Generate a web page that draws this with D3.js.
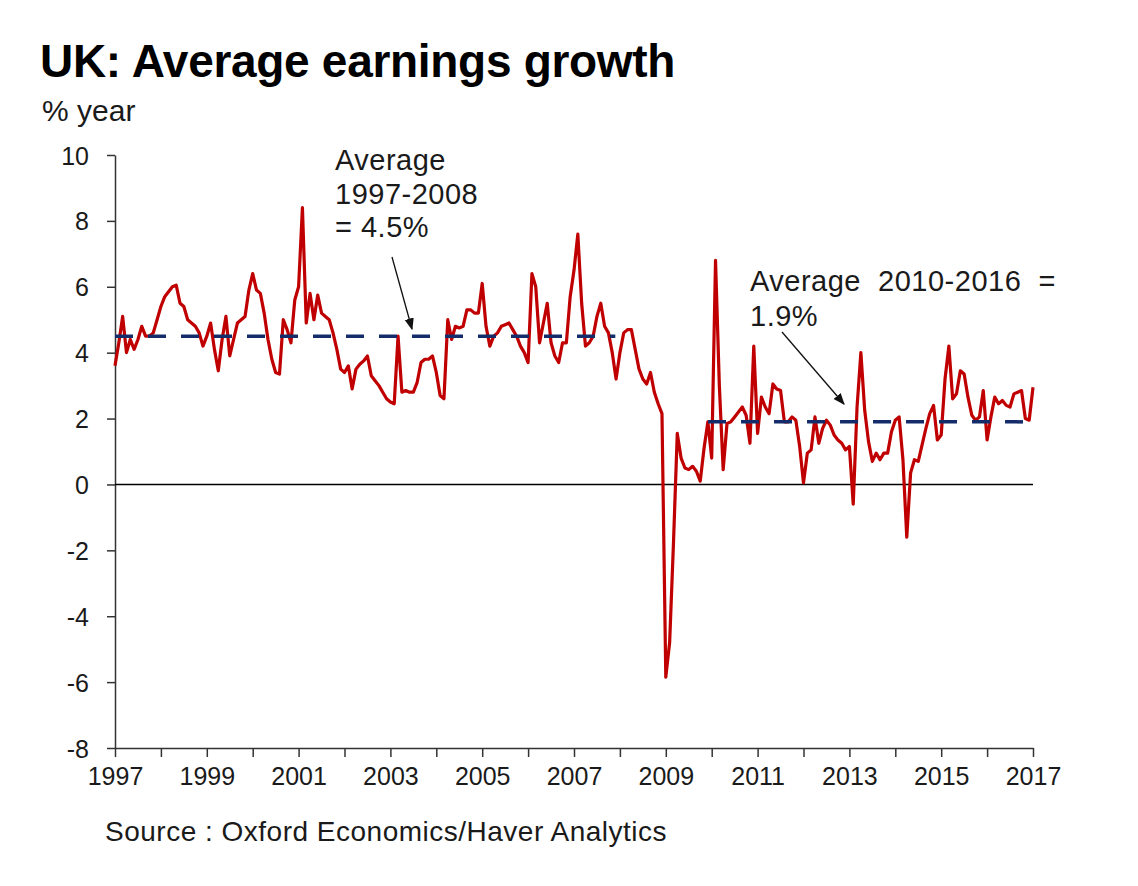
<!DOCTYPE html>
<html lang="en">
<head>
<meta charset="UTF-8">
<title>UK: Average earnings growth</title>
<style>
  body { margin: 0; background: #fff; }
  svg text { font-family: "Liberation Sans", Arial, sans-serif; fill: #1a1a1a; }
  .axis path, .axis line { stroke: #333; stroke-width: 1.5px; }
  .axis text { font-size: 25px; }
  .note { font-size: 29px; letter-spacing: 0.5px; }
</style>
</head>
<body>
<div id="chart"></div>
<script src="https://d3js.org/d3.v7.min.js"></script>
<script>
// monthly values, % year, from Jan 1997
const startYear = 1997;
const earnings = [
  3.6, 4.3, 5.1, 4.0, 4.4, 4.1, 4.4, 4.8, 4.5, 4.5, 4.6, 5.0,      // 1997
  5.4, 5.7, 5.85, 6.0, 6.05, 5.5, 5.4, 5.0, 4.9, 4.8, 4.6, 4.2,    // 1998
  4.5, 4.9, 4.1, 3.45, 4.4, 5.1, 3.9, 4.4, 4.9, 5.0, 5.1, 5.9,     // 1999
  6.4, 5.9, 5.8, 5.2, 4.4, 3.8, 3.4, 3.35, 5.0, 4.7, 4.3, 5.6,     // 2000
  6.0, 8.4, 4.9, 5.8, 5.0, 5.75, 5.2, 5.1, 5.0, 4.6, 4.1, 3.5,     // 2001
  3.4, 3.6, 2.9, 3.5, 3.65, 3.75, 3.9, 3.3, 3.15, 3.0, 2.8, 2.6,   // 2002
  2.5, 2.45, 4.5, 2.8, 2.85, 2.8, 2.8, 3.1, 3.7, 3.8, 3.8, 3.9,    // 2003
  3.4, 2.7, 2.6, 5.0, 4.4, 4.8, 4.75, 4.8, 5.3, 5.3, 5.2, 5.2,     // 2004
  6.1, 4.8, 4.2, 4.5, 4.6, 4.8, 4.85, 4.9, 4.7, 4.5, 4.2, 4.0,     // 2005
  3.7, 6.4, 6.0, 4.3, 4.9, 5.5, 4.3, 3.9, 3.7, 4.3, 4.3, 5.7,      // 2006
  6.5, 7.6, 5.5, 4.2, 4.3, 4.5, 5.1, 5.5, 4.8, 4.6, 4.0, 3.2,      // 2007
  4.0, 4.6, 4.7, 4.7, 4.1, 3.5, 3.2, 3.05, 3.4, 2.8, 2.45, 2.15,   // 2008
  -5.85, -4.8, -1.8, 1.55, 0.8, 0.5, 0.45, 0.55, 0.4, 0.1, 1.1, 1.9, // 2009
  0.8, 6.8, 3.0, 0.45, 1.85, 1.9, 2.05, 2.2, 2.35, 2.1, 1.25, 4.2, // 2010
  1.55, 2.65, 2.35, 2.15, 3.05, 2.9, 2.85, 1.9, 1.9, 2.05, 1.95, 1.15, // 2011
  0.05, 0.95, 1.05, 2.05, 1.25, 1.7, 1.95, 1.8, 1.5, 1.35, 1.25, 1.05, // 2012
  1.15, -0.6, 2.35, 4.0, 2.25, 1.3, 0.7, 0.95, 0.75, 0.95, 0.95, 1.6,  // 2013
  1.95, 2.05, 0.75, -1.6, 0.35, 0.75, 0.7, 1.2, 1.7, 2.15, 2.4, 1.35,  // 2014
  1.5, 3.2, 4.2, 2.6, 2.75, 3.45, 3.35, 2.65, 2.1, 1.95, 2.05, 2.85,   // 2015
  1.35, 2.05, 2.65, 2.45, 2.55, 2.4, 2.35, 2.75, 2.8, 2.85, 2.0, 1.95, // 2016
  2.95                                                               // 2017
];

// period averages: [from, to, value]
const averages = [
  [1997, 2007.9, 4.5],
  [2009.92, 2017, 1.9]
];

const yearTicks = d3.range(1997, 2018);
const yearLabels = d3.range(1997, 2018, 2);
const valueTicks = d3.range(-8, 11, 2);

const width = 1138, height = 886;
const margin = { left: 115, right: 105, top: 155, bottom: 138 };

const svg = d3.select("#chart").append("svg")
  .attr("width", width)
  .attr("height", height);

const x = d3.scaleLinear()
  .domain([1997, 2017])
  .range([margin.left, width - margin.right]);

const y = d3.scaleLinear()
  .domain([-8, 10])
  .range([height - margin.bottom, margin.top]);

// title and unit
svg.append("text")
  .attr("x", 40).attr("y", 77)
  .style("font-size", "46px").style("font-weight", "bold")
  .style("letter-spacing", "-0.3px")
  .style("fill", "#000")
  .text("UK: Average earnings growth");

svg.append("text")
  .attr("x", 42).attr("y", 121)
  .style("font-size", "30px")
  .text("% year");

// axes
svg.append("g")
  .attr("class", "axis")
  .attr("transform", `translate(${margin.left},0)`)
  .call(d3.axisLeft(y).tickValues(valueTicks).tickSize(8).tickSizeOuter(0)
    .tickPadding(18).tickFormat(d => String(d)))
  .call(g => g.selectAll("text").attr("dy", "0.36em"));

const xAxis = svg.append("g")
  .attr("class", "axis")
  .attr("transform", `translate(0,${y(-8)})`)
  .call(d3.axisBottom(x).tickValues(yearTicks).tickSize(9).tickSizeOuter(0)
    .tickFormat(d => yearLabels.includes(d) ? String(d) : ""));
xAxis.selectAll("text").attr("dy", "1.0em");

// zero line
svg.append("line")
  .attr("x1", x(1997)).attr("x2", x(2017))
  .attr("y1", y(0)).attr("y2", y(0))
  .attr("stroke", "#000").attr("stroke-width", 1.5);

// earnings line
const line = d3.line()
  .x((d, i) => x(startYear + i / 12))
  .y(d => y(d));

svg.append("path")
  .datum(earnings)
  .attr("fill", "none")
  .attr("stroke", "#c00000")
  .attr("stroke-width", 3.2)
  .attr("stroke-linejoin", "round")
  .attr("d", line);

// average dashed lines
svg.selectAll(".avg")
  .data(averages)
  .enter().append("line")
  .attr("class", "avg")
  .attr("x1", d => x(d[0])).attr("x2", d => x(d[1]))
  .attr("y1", d => y(d[2])).attr("y2", d => y(d[2]))
  .attr("stroke", "#142c6a")
  .attr("stroke-width", 3.5)
  .attr("stroke-dasharray", "18,15");

// annotations
const defs = svg.append("defs");
defs.append("marker")
  .attr("id", "arrow")
  .attr("viewBox", "0 0 10 10")
  .attr("refX", 9).attr("refY", 5)
  .attr("markerWidth", 9).attr("markerHeight", 9)
  .attr("orient", "auto")
  .append("path")
  .attr("d", "M0,1 L10,5 L0,9 Z")
  .attr("fill", "#111");

const note1 = svg.append("text").attr("class", "note");
["Average", "1997-2008", "= 4.5%"].forEach((t, i) => {
  note1.append("tspan").attr("x", 335).attr("y", 170 + i * 33.5).text(t);
});

svg.append("text")
  .attr("class", "note")
  .attr("x", 750).attr("y", 291)
  .style("white-space", "pre")
  .text("Average  2010-2016  =");
svg.append("text")
  .attr("class", "note")
  .attr("x", 750).attr("y", 326)
  .text("1.9%");

svg.append("line")
  .attr("x1", 392).attr("y1", 257)
  .attr("x2", 412).attr("y2", 329)
  .attr("stroke", "#111").attr("stroke-width", 1.3)
  .attr("marker-end", "url(#arrow)");

svg.append("line")
  .attr("x1", 782).attr("y1", 332)
  .attr("x2", 844).attr("y2", 404)
  .attr("stroke", "#111").attr("stroke-width", 1.3)
  .attr("marker-end", "url(#arrow)");

// source
svg.append("text")
  .attr("x", 105).attr("y", 841)
  .style("font-size", "28px")
  .style("letter-spacing", "0.5px")
  .text("Source : Oxford Economics/Haver Analytics");
</script>
</body>
</html>
